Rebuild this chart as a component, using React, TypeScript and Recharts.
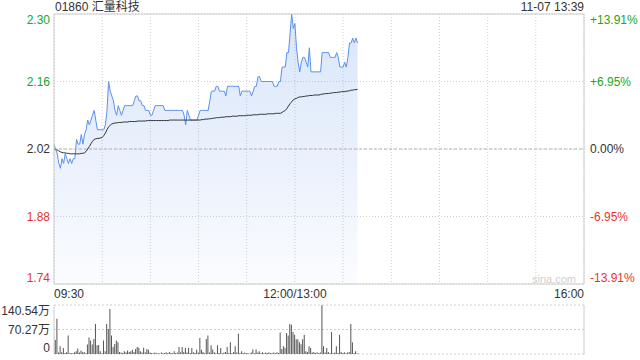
import {
  Area,
  Bar,
  BarChart,
  CartesianGrid,
  ComposedChart,
  Line,
  ReferenceLine,
  XAxis,
  YAxis,
} from 'recharts';

const stockTitle = '01860 汇量科技';
const stampText = '11-07 13:39';
const watermark = 'sina.com';
const prevClose = 2.02;

const priceTicks = [1.74, 1.88, 2.02, 2.16, 2.3];
const pctLabels = ['-13.91%', '-6.95%', '0.00%', '+6.95%', '+13.91%'];
const timeTicks = [0, 30, 60, 90, 120, 150, 180, 210, 240, 270, 300, 330];
const timeLabels: Record<number, string> = { 0: '09:30', 150: '12:00/13:00', 330: '16:00' };
const volTicks = [0, 70.27, 140.54];
const volLabels = ['0', '70.27万', '140.54万'];

// one value per trading minute, 09:30 -> 13:39
const prices = [
  2.03, 2.02, 2.01, 1.99, 1.98, 2.0, 1.99, 2.01, 2.0, 1.99,
  2.0, 1.99, 2.0, 2.0, 2.04, 2.03, 2.03, 2.05, 2.03, 2.05,
  2.06, 2.08, 2.07, 2.08, 2.09, 2.1, 2.08, 2.06, 2.06, 2.06,
  2.06, 2.06, 2.07, 2.1, 2.16, 2.14, 2.13, 2.12, 2.1, 2.09,
  2.11, 2.1, 2.09, 2.1, 2.11, 2.11, 2.11, 2.11, 2.11, 2.11,
  2.12, 2.13, 2.13, 2.12, 2.12, 2.11, 2.11, 2.1, 2.1, 2.1,
  2.09, 2.09, 2.1, 2.11, 2.11, 2.11, 2.11, 2.11, 2.11, 2.1,
  2.1, 2.1, 2.1, 2.1, 2.1, 2.1, 2.1, 2.1, 2.1, 2.1,
  2.1, 2.09, 2.07, 2.1, 2.09, 2.08, 2.08, 2.08, 2.08, 2.08,
  2.09, 2.1, 2.1, 2.1, 2.1, 2.1, 2.1, 2.12, 2.14, 2.14,
  2.14, 2.15, 2.15, 2.14, 2.14, 2.14, 2.14, 2.13, 2.15, 2.15,
  2.15, 2.15, 2.15, 2.15, 2.15, 2.15, 2.13, 2.14, 2.14, 2.14,
  2.14, 2.14, 2.14, 2.13, 2.14, 2.15, 2.15, 2.17, 2.17, 2.16,
  2.16, 2.16, 2.16, 2.16, 2.16, 2.16, 2.16, 2.15, 2.15, 2.15,
  2.16, 2.16, 2.19, 2.19, 2.19, 2.22, 2.22, 2.26, 2.3, 2.27,
  2.28, 2.23, 2.2, 2.18, 2.2, 2.21, 2.21, 2.2, 2.19, 2.23,
  2.18, 2.18, 2.18, 2.18, 2.18, 2.18, 2.18, 2.22, 2.22, 2.22,
  2.22, 2.22, 2.21, 2.21, 2.21, 2.21, 2.22, 2.21, 2.19, 2.19,
  2.19, 2.2, 2.19, 2.21, 2.24, 2.24, 2.25, 2.24, 2.25, 2.24,
];

const avgPrices = [
  2.02, 2.019, 2.018, 2.016, 2.014, 2.013, 2.012, 2.012, 2.011, 2.011,
  2.01, 2.01, 2.01, 2.01, 2.01, 2.01, 2.01, 2.011, 2.011, 2.012,
  2.015, 2.02, 2.025, 2.031, 2.036, 2.04, 2.041, 2.042, 2.042, 2.043,
  2.044, 2.048, 2.053, 2.06, 2.066, 2.069, 2.072, 2.073, 2.074, 2.074,
  2.075, 2.075, 2.075, 2.076, 2.076, 2.076, 2.076, 2.077, 2.077, 2.077,
  2.077, 2.077, 2.078, 2.078, 2.078, 2.078, 2.078, 2.078, 2.079, 2.079,
  2.079, 2.079, 2.079, 2.079, 2.079, 2.079, 2.079, 2.079, 2.079, 2.079,
  2.079, 2.079, 2.08, 2.08, 2.08, 2.08, 2.08, 2.08, 2.08, 2.08,
  2.08, 2.08, 2.08, 2.08, 2.08, 2.08, 2.08, 2.08, 2.08, 2.08,
  2.08, 2.08, 2.081, 2.081, 2.082, 2.082, 2.082, 2.083, 2.083, 2.084,
  2.084, 2.085, 2.085, 2.085, 2.086, 2.086, 2.086, 2.087, 2.087, 2.087,
  2.087, 2.088, 2.088, 2.088, 2.088, 2.089, 2.089, 2.089, 2.089, 2.089,
  2.09, 2.09, 2.09, 2.09, 2.091, 2.091, 2.091, 2.091, 2.092, 2.092,
  2.092, 2.092, 2.092, 2.093, 2.093, 2.093, 2.093, 2.093, 2.094, 2.094,
  2.094, 2.094, 2.096, 2.098, 2.1, 2.104, 2.109, 2.114, 2.118, 2.122,
  2.124, 2.125, 2.127, 2.128, 2.128, 2.129, 2.129, 2.13, 2.13, 2.131,
  2.131, 2.131, 2.132, 2.132, 2.132, 2.132, 2.133, 2.134, 2.134, 2.135,
  2.135, 2.135, 2.136, 2.136, 2.137, 2.137, 2.137, 2.138, 2.138, 2.139,
  2.139, 2.139, 2.14, 2.14, 2.141, 2.142, 2.142, 2.143, 2.143, 2.144,
];

// 万 shares per minute
const volumes = [
  50, 40, 101, 4, 22, 5, 17, 3, 5, 53,
  3, 2, 3, 5, 8, 16, 4, 10, 5, 6,
  2, 27, 47, 39, 27, 43, 86, 25, 26, 8,
  2, 39, 8, 86, 72, 129, 53, 20, 29, 39,
  34, 6, 4, 3, 8, 5, 10, 6, 8, 12,
  6, 14, 20, 18, 8, 4, 18, 5, 14, 12,
  4, 3, 2, 4, 2, 3, 1, 4, 2, 3,
  5, 2, 6, 3, 2, 8, 3, 4, 20, 5,
  20, 6, 18, 4, 18, 3, 17, 5, 3, 12,
  4, 46, 12, 6, 3, 43, 53, 4, 25, 13,
  5, 2, 25, 3, 17, 2, 4, 6, 20, 3,
  34, 2, 6, 22, 4, 58, 3, 8, 2, 4,
  2, 3, 1, 4, 13, 2, 13, 4, 8, 3,
  5, 2, 4, 3, 5, 2, 3, 4, 2, 5,
  3, 62, 14, 22, 18, 60, 53, 86, 84, 63,
  55, 42, 42, 34, 28, 42, 55, 8, 6, 22,
  17, 4, 6, 3, 5, 2, 4, 140, 22, 4,
  17, 6, 2, 63, 3, 4, 22, 3, 55, 6,
  3, 5, 2, 4, 6, 86, 34, 3, 8, 2,
];

const rows = prices.map((price, i) => ({
  t: i,
  price,
  avg: avgPrices[i],
  vol: volumes[i],
}));

const FONT = '"Liberation Sans", Arial, "Noto Sans CJK SC", sans-serif';
const GREEN = '#22a524';
const RED = '#e8352b';
const DARK = '#333';
const BORDER = '#cccccc';

function toneFor(v: number) {
  if (Math.abs(v - prevClose) < 1e-6) return DARK;
  return v > prevClose ? GREEN : RED;
}

// end labels sit just inside the plot edges
function nudge(idx: number, count: number) {
  if (idx === 0) return -6;
  if (idx === count - 1) return 6;
  return 0;
}

function LeftPriceTick(props: any) {
  const { y, payload } = props;
  const v = Number(payload.value);
  const idx = priceTicks.findIndex((p) => Math.abs(p - v) < 1e-6);
  return (
    <text x={50} y={y + nudge(idx, priceTicks.length)} textAnchor="end" dominantBaseline="central" fontSize={12} fontFamily={FONT} fill={toneFor(v)}>
      {v.toFixed(2)}
    </text>
  );
}

function RightPctTick(props: any) {
  const { y, payload } = props;
  const v = Number(payload.value);
  const idx = priceTicks.findIndex((p) => Math.abs(p - v) < 1e-6);
  return (
    <text x={590} y={y + nudge(idx, priceTicks.length)} textAnchor="start" dominantBaseline="central" fontSize={12} fontFamily={FONT} fill={toneFor(v)}>
      {pctLabels[idx]}
    </text>
  );
}

function TimeTick(props: any) {
  const { x, payload } = props;
  const label = timeLabels[payload.value];
  if (!label) return null;
  const anchor = payload.value === 0 ? 'start' : payload.value === 330 ? 'end' : 'middle';
  return (
    <text x={x} y={294} textAnchor={anchor} dominantBaseline="central" fontSize={12} fontFamily={FONT} fill={DARK}>
      {label}
    </text>
  );
}

function VolTick(props: any) {
  const { y, payload } = props;
  const idx = volTicks.findIndex((v) => Math.abs(v - Number(payload.value)) < 1e-6);
  return (
    <text x={50} y={y + nudge(idx, volTicks.length)} textAnchor="end" dominantBaseline="central" fontSize={12} fontFamily={FONT} fill={DARK}>
      {volLabels[idx]}
    </text>
  );
}

export default function App() {
  return (
    <div style={{ position: 'absolute', left: 0, top: 0, width: 640, height: 360, background: '#fff', fontFamily: FONT }}>
      <div style={{ position: 'absolute', left: 55, top: 0, fontSize: 12, lineHeight: '15px', color: DARK }}>
        {stockTitle}
      </div>
      <div style={{ position: 'absolute', right: 56, top: 0, fontSize: 12, lineHeight: '15px', color: DARK }}>
        {stampText}
      </div>

      <div style={{ position: 'absolute', left: 0, top: 0 }}>
        <ComposedChart width={640} height={300} data={rows} margin={{ top: 14, right: 0, bottom: 0, left: 0 }}>
          <defs>
            <linearGradient id="priceFill" x1="0" y1="0" x2="0" y2="1">
              <stop offset="0%" stopColor="#6f9fe9" stopOpacity={0.27} />
              <stop offset="100%" stopColor="#6f9fe9" stopOpacity={0.03} />
            </linearGradient>
          </defs>
          <CartesianGrid yAxisId="p" stroke="#cfcfcf" strokeDasharray="1 2" />
          <XAxis
            dataKey="t"
            type="number"
            domain={[0, 330]}
            ticks={timeTicks}
            interval={0}
            allowDataOverflow
            height={16}
            tickLine={false}
            axisLine={{ stroke: BORDER }}
            tick={(p: any) => <TimeTick {...p} />}
          />
          <YAxis
            yAxisId="p"
            type="number"
            domain={[1.74, 2.3]}
            ticks={priceTicks}
            interval={0}
            allowDataOverflow
            width={54}
            tickLine={false}
            axisLine={{ stroke: BORDER }}
            tick={(p: any) => <LeftPriceTick {...p} />}
          />
          <YAxis
            yAxisId="pr"
            orientation="right"
            type="number"
            domain={[1.74, 2.3]}
            ticks={priceTicks}
            interval={0}
            allowDataOverflow
            width={56}
            tickLine={false}
            axisLine={{ stroke: BORDER }}
            tick={(p: any) => <RightPctTick {...p} />}
          />
          <Area
            yAxisId="p"
            type="linear"
            dataKey="price"
            stroke="#5b91ec"
            strokeWidth={1}
            fill="url(#priceFill)"
            fillOpacity={1}
            dot={false}
            activeDot={false}
            isAnimationActive={false}
          />
          <Line
            yAxisId="p"
            type="linear"
            dataKey="avg"
            stroke="#333"
            strokeWidth={1}
            dot={false}
            activeDot={false}
            isAnimationActive={false}
          />
          <ReferenceLine yAxisId="p" y={prevClose} stroke="#b5b5b5" strokeDasharray="3 2" />
          <ReferenceLine yAxisId="p" y={2.3} stroke={BORDER} />
        </ComposedChart>
      </div>

      <div style={{ position: 'absolute', left: 532, top: 271, fontSize: 11, lineHeight: '16px', color: '#cfcfcf' }}>
        {watermark}
      </div>

      <div style={{ position: 'absolute', left: 0, top: 290 }}>
        <BarChart width={640} height={70} data={rows} margin={{ top: 15, right: 56, bottom: 6, left: 0 }}>
          <CartesianGrid vertical={false} stroke="#cfcfcf" strokeDasharray="2 2" />
          <XAxis dataKey="t" type="number" domain={[0, 330]} allowDataOverflow hide />
          <YAxis
            type="number"
            domain={[0, 140.54]}
            ticks={volTicks}
            interval={0}
            allowDataOverflow
            width={54}
            tickLine={false}
            axisLine={{ stroke: BORDER }}
            tick={(p: any) => <VolTick {...p} />}
          />
          <ReferenceLine x={330} stroke={BORDER} />
          <Bar dataKey="vol" fill="#555" barSize={1} isAnimationActive={false} />
        </BarChart>
      </div>
    </div>
  );
}
